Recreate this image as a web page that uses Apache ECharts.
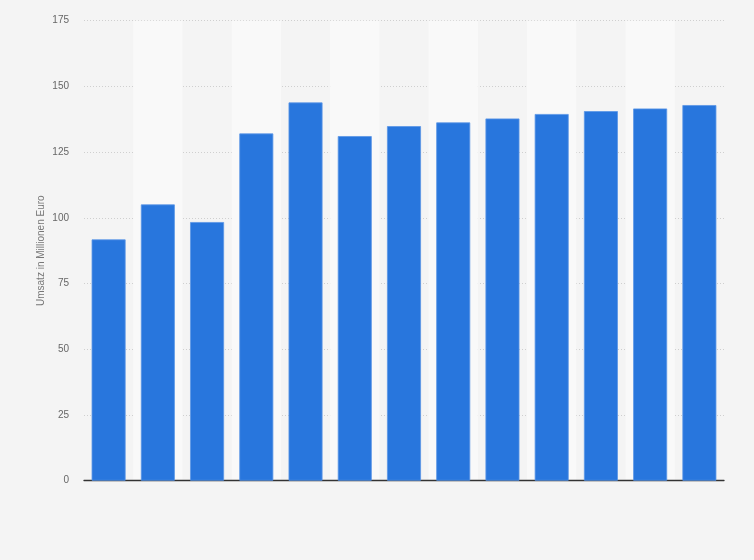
<!DOCTYPE html>
<html><head><meta charset="utf-8">
<script src="https://cdn.jsdelivr.net/npm/echarts@6/dist/echarts.min.js"></script>
<style>html,body{margin:0;padding:0;background:#f4f4f4}#c{width:754px;height:560px}</style>
</head><body><div id="c"></div>
<script>
var categories = ['1','2','3','4','5','6','7','8','9','10','11','12','13'];
var values = [91.8, 105.1, 98.4, 132.1, 143.9, 131.1, 134.9, 136.3, 137.8, 139.5, 140.6, 141.6, 142.9];
var yTicks = [0, 25, 50, 75, 100, 125, 150, 175];
var yName = 'Umsatz in Millionen Euro';

var chart = echarts.init(document.getElementById('c'), null, {renderer:'canvas'});
chart.setOption({
  backgroundColor: '#f4f4f4',
  animation: false,
  grid: {left: 84, right: 30, top: 20.7, bottom: 79.3},
  xAxis: {
    type: 'category', data: categories,
    axisLine: {lineStyle: {color: '#333', width: 1.3}},
    axisTick: {show: false}, axisLabel: {show: false},
    splitArea: {show: true, areaStyle: {color: ['rgba(0,0,0,0)', '#f9f9f9']}}
  },
  yAxis: {
    type: 'value', min: yTicks[0], max: yTicks[yTicks.length-1], interval: 25,
    name: yName, nameLocation: 'middle', nameGap: 38, nameMoveOverlap: false,
    nameTextStyle: {color: '#777', fontSize: 10, fontFamily: 'Liberation Sans, Arial, sans-serif'},
    axisLine: {show: false}, axisTick: {show: false},
    axisLabel: {color: '#666', fontSize: 10, fontFamily: 'Liberation Sans, Arial, sans-serif', margin: 15},
    splitLine: {lineStyle: {color: '#cfcfcf', type: [1, 2], width: 1}}
  },
  series: [{
    type: 'bar', data: values, barCategoryGap: '31%',
    itemStyle: {color: '#2876dd', borderColor: '#5a95e6', borderWidth: 0.8}
  }]
});
</script></body></html>
